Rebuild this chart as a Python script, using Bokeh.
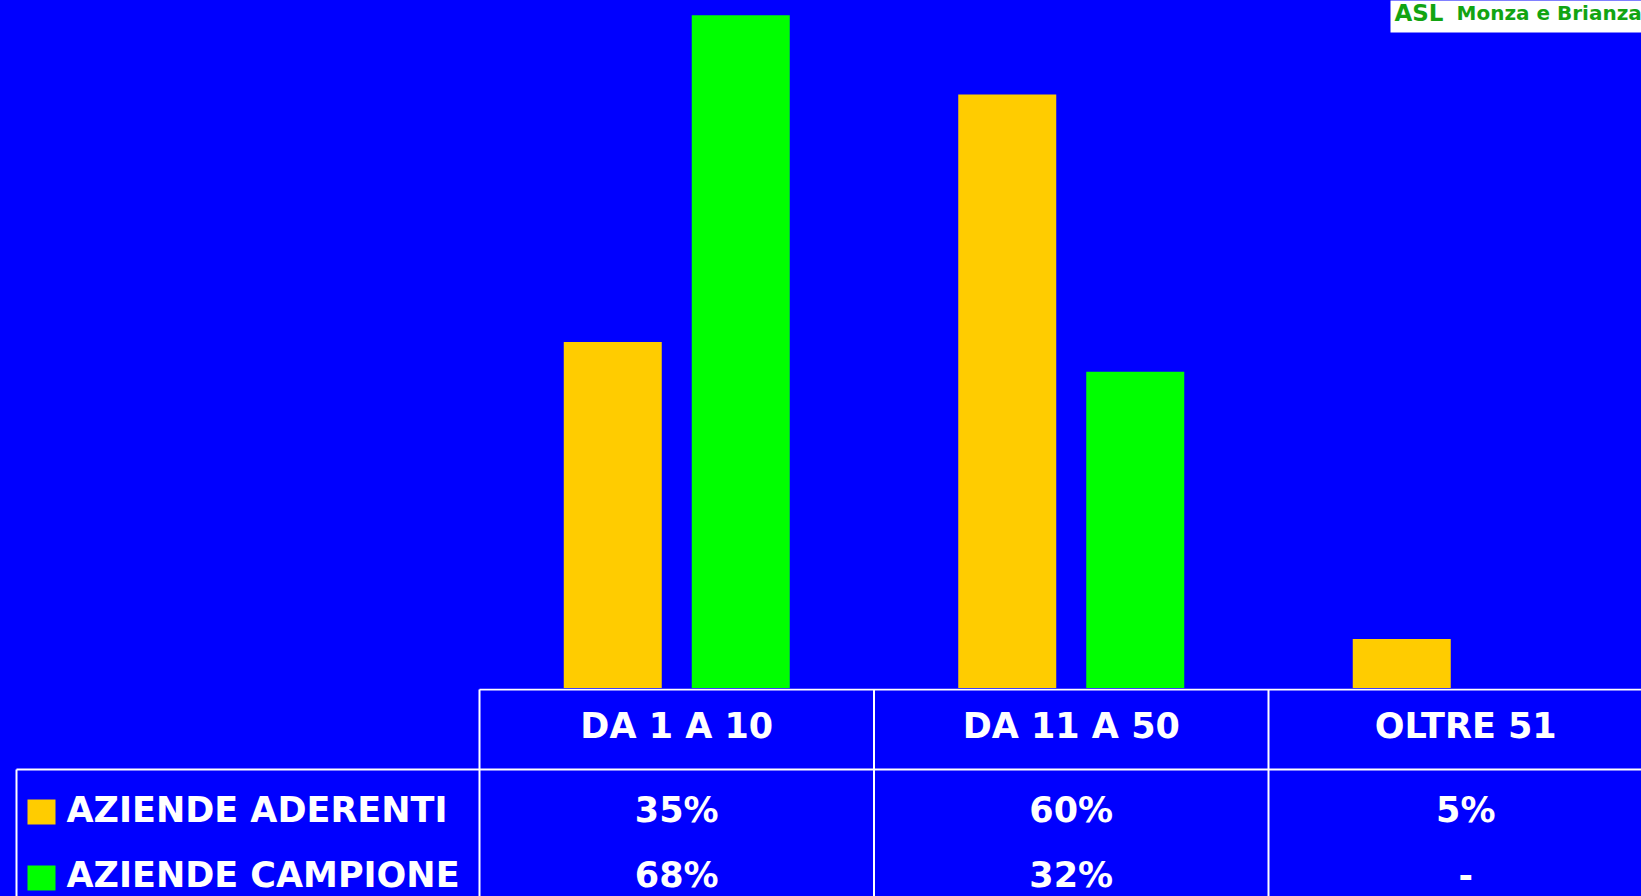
from bokeh.plotting import figure
from bokeh.layouts import column
from bokeh.models import Range1d, ColumnDataSource, GlobalInlineStyleSheet
from bokeh.core.properties import value
from bokeh.embed import file_html
from bokeh.resources import INLINE

# ---------------- data ----------------
categories = ["DA 1 A 10", "DA 11 A 50", "OLTRE 51"]
series_names = ["AZIENDE ADERENTI", "AZIENDE CAMPIONE"]
aderenti = [35, 60, 5]
campione = [68, 32, None]
series_colors = ["#FFCC00", "#00FF00"]
logo_asl = "ASL"
logo_name = "Monza e Brianza"

# ---------------- layout / style ----------------
BLUE = "#0000FF"
WHITE = "#FFFFFF"
LOGO_GREEN = "#12A412"
FONT = value("DejaVu Sans")
W = 1641
H_TOP = 688
H_BOT = 208

PX0 = 479.0     # page x of the first category column
CW = 394.5      # pixels per category
PY0 = 688.0     # page y of the bar baseline
PPU = 9.9       # pixels per percent


def xd(px):
    return (px - PX0) / CW


def yd(py):
    return (PY0 - py) / PPU


x_range = Range1d(xd(0), xd(W))

common = dict(width=W, x_range=x_range, output_backend="svg", toolbar_location=None,
              x_axis_type=None, y_axis_type=None, min_border=0,
              background_fill_color=BLUE, border_fill_color=BLUE,
              outline_line_color=None)

# ---------------- bar figure ----------------
p1 = figure(height=H_TOP, y_range=Range1d(0, H_TOP / PPU), **common)
p1.grid.visible = False

centers = [i + 0.5 for i in range(len(categories))]
offset = 64 / CW
bar_w = 98 / CW

for k, (vals, col) in enumerate(zip([aderenti, campione], series_colors)):
    sgn = -1 if k == 0 else 1
    xs = [c + sgn * offset for c, v in zip(centers, vals) if v is not None]
    tops = [v for v in vals if v is not None]
    src = ColumnDataSource(dict(x=xs, top=tops))
    p1.vbar(x="x", top="top", bottom=0, width=bar_w, source=src,
            fill_color=col, line_color=None)

# logo box top-right
p1.quad(left=[xd(1390)], right=[xd(1700)], bottom=[yd(32)], top=[yd(-10)],
        fill_color=WHITE, line_color=None)
p1.text(x=[xd(1394)], y=[yd(12)], text=[logo_asl], text_font=FONT,
        text_font_size="23px", text_font_style="bold", text_color=LOGO_GREEN,
        text_align="left", text_baseline="alphabetic")
p1.text(x=[xd(1456)], y=[yd(12)], text=[logo_name], text_font=FONT,
        text_font_size="20px", text_font_style="bold", text_color=LOGO_GREEN,
        text_align="left", text_baseline="alphabetic")

# ---------------- table figure ----------------
p2 = figure(height=H_BOT, y_range=Range1d(start=H_BOT, end=0), **common)
p2.grid.visible = False

right_end = xd(1700)
legend_left = xd(16)
hdr_line = 1
row_line = 81

# horizontal lines
p2.segment(x0=[0, legend_left], y0=[hdr_line, row_line],
           x1=[right_end, right_end], y1=[hdr_line, row_line],
           line_color=WHITE, line_width=2)
# vertical lines
vx = [float(i) for i in range(len(categories))]
p2.segment(x0=vx, y0=[hdr_line] * len(vx), x1=vx, y1=[H_BOT + 5] * len(vx),
           line_color=WHITE, line_width=2)
p2.segment(x0=[legend_left], y0=[row_line], x1=[legend_left], y1=[H_BOT + 5],
           line_color=WHITE, line_width=2)

txt = dict(text_font=FONT, text_font_size="35px", text_font_style="bold",
           text_color=WHITE, text_baseline="alphabetic")

# header row
p2.text(x=centers, y=[37] * len(categories), text=categories, text_align="center", **txt)

row_baselines = [121, 186]
for vals, yb in zip([aderenti, campione], row_baselines):
    labels = [f"{v}%" if v is not None else "-" for v in vals]
    p2.text(x=centers, y=[yb] * len(vals), text=labels, text_align="center", **txt)

# legend squares + names
sq_top = [111, 177]
p2.quad(left=[xd(27)] * 2, right=[xd(55)] * 2, top=sq_top,
        bottom=[t + 25 for t in sq_top], fill_color=series_colors, line_color=None)
p2.text(x=[xd(66)] * 2, y=row_baselines, text=series_names, text_align="left", **txt)

layout = column(p1, p2, spacing=0)
layout.stylesheets = [GlobalInlineStyleSheet(css="html, body { background-color: #0000FF; }")]

open("out.html", "w").write(file_html(layout, INLINE))
